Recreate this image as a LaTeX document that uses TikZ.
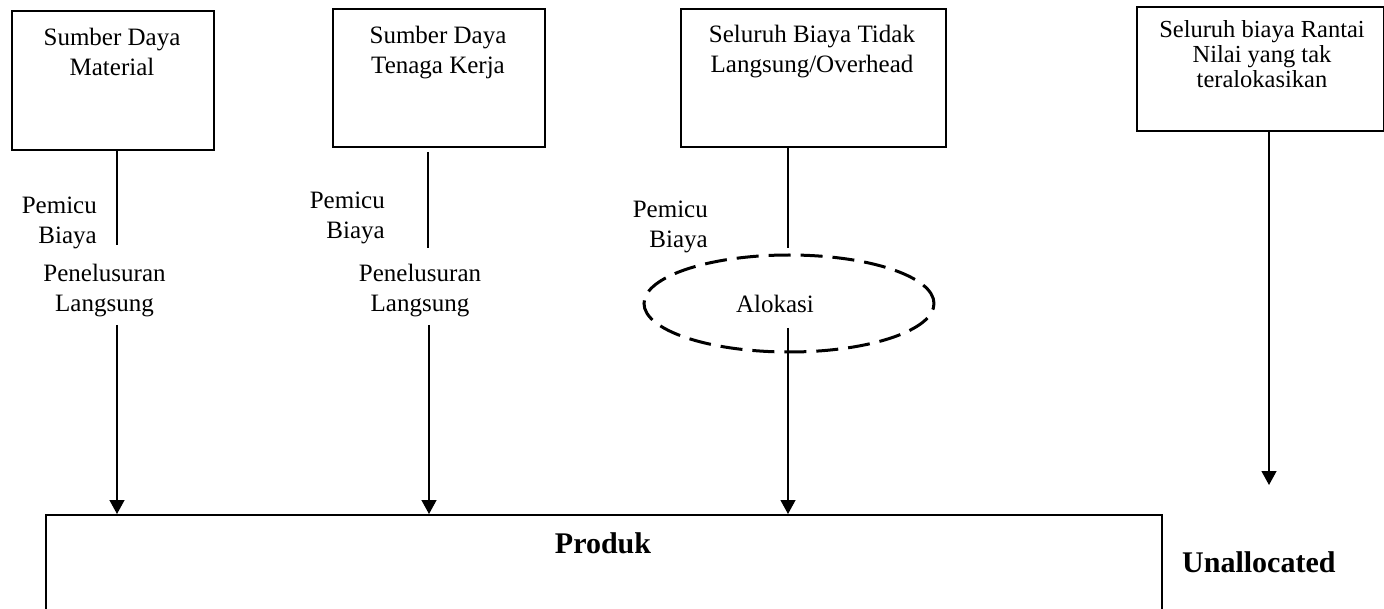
\documentclass[tikz,border=0pt]{standalone}
\usepackage{fontspec}
\setmainfont{Liberation Serif}
\usetikzlibrary{arrows.meta,shapes.geometric}
\begin{document}
\begin{tikzpicture}[x=1pt,y=-1pt,
  srcbox/.style={draw,line width=1.6pt,anchor=north west,inner sep=0pt},
  boxtext/.style={anchor=north,inner sep=0pt,align=center,font=\fontsize{25}{30}\selectfont},
  lbl/.style={inner sep=0pt,font=\fontsize{25}{30}\selectfont},
  conn/.style={line width=1.3pt},
  arr/.style={line width=1.3pt,-{Triangle[length=14pt,width=15pt]}},
  boldlbl/.style={inner sep=0pt,font=\fontsize{30}{34}\selectfont\bfseries}]
\useasboundingbox (0,0) rectangle (1384,609);
\clip (0,0) rectangle (1384,609);

% source boxes
\node[srcbox,minimum width=202pt,minimum height=139pt] (b1) at (11,10) {};
\node[srcbox,minimum width=212pt,minimum height=138pt] (b2) at (332,8) {};
\node[srcbox,minimum width=265pt,minimum height=138pt] (b3) at (680,8) {};
\node[srcbox,minimum width=247pt,minimum height=124pt] (b4) at (1136,6) {};

\node[boxtext] (t1) at (112,24) {\strut Sumber Daya\\Material};
\node[boxtext] (t2) at (438,22) {\strut Sumber Daya\\Tenaga Kerja};
\node[boxtext] (t3) at (812,21) {\strut Seluruh Biaya Tidak\\Langsung/Overhead};
\node[boxtext,font=\fontsize{24.5}{25}\selectfont] (t4) at (1262,19.5) {\strut Seluruh biaya Rantai\\Nilai yang tak\\teralokasikan};

% product box
\node[srcbox,minimum width=1116pt,minimum height=160pt] (produk) at (45,514) {};
\node[boldlbl,anchor=base] (ptext) at (603,553) {Produk};
\node[boldlbl,anchor=base west] (unalloc) at (1182,572) {Unallocated};

% labels
\node[lbl,anchor=north east,align=right] (pb1) at (97,192) {\strut Pemicu\\Biaya};
\node[lbl,anchor=north east,align=right] (pb2) at (385,187) {\strut Pemicu\\Biaya};
\node[lbl,anchor=north east,align=right] (pb3) at (708,196) {\strut Pemicu\\Biaya};
\node[lbl,anchor=north,align=center] (pl1) at (104.5,260) {\strut Penelusuran\\Langsung};
\node[lbl,anchor=north,align=center] (pl2) at (420,260) {\strut Penelusuran\\Langsung};

% allocation ellipse
\node[draw,ellipse,dash pattern=on 22pt off 10pt,line width=3pt,
      minimum width=290pt,minimum height=97pt,inner sep=0pt] (alok) at (789,303.5) {};
\node[lbl,anchor=base] (aloktext) at (775,313) {Alokasi};

% connector coordinates
\coordinate (e1) at (117,245);
\coordinate (s1) at (117,325);
\coordinate (q2) at (428,152);
\coordinate (e2) at (428,248);
\coordinate (s2) at (429,325);
\coordinate (e3) at (788,248);
\coordinate (s3) at (788,328);
\coordinate (e4) at (1269,485);

% connectors
\draw[conn] (e1 |- b1.south) -- (e1);
\draw[arr] (s1) -- (s1 |- produk.north);
\draw[conn] (q2) -- (e2);
\draw[arr] (s2) -- (s2 |- produk.north);
\draw[conn] (e3 |- b3.south) -- (e3);
\draw[arr] (s3) -- (s3 |- produk.north);
\draw[arr] (e4 |- b4.south) -- (e4);
\end{tikzpicture}
\end{document}
